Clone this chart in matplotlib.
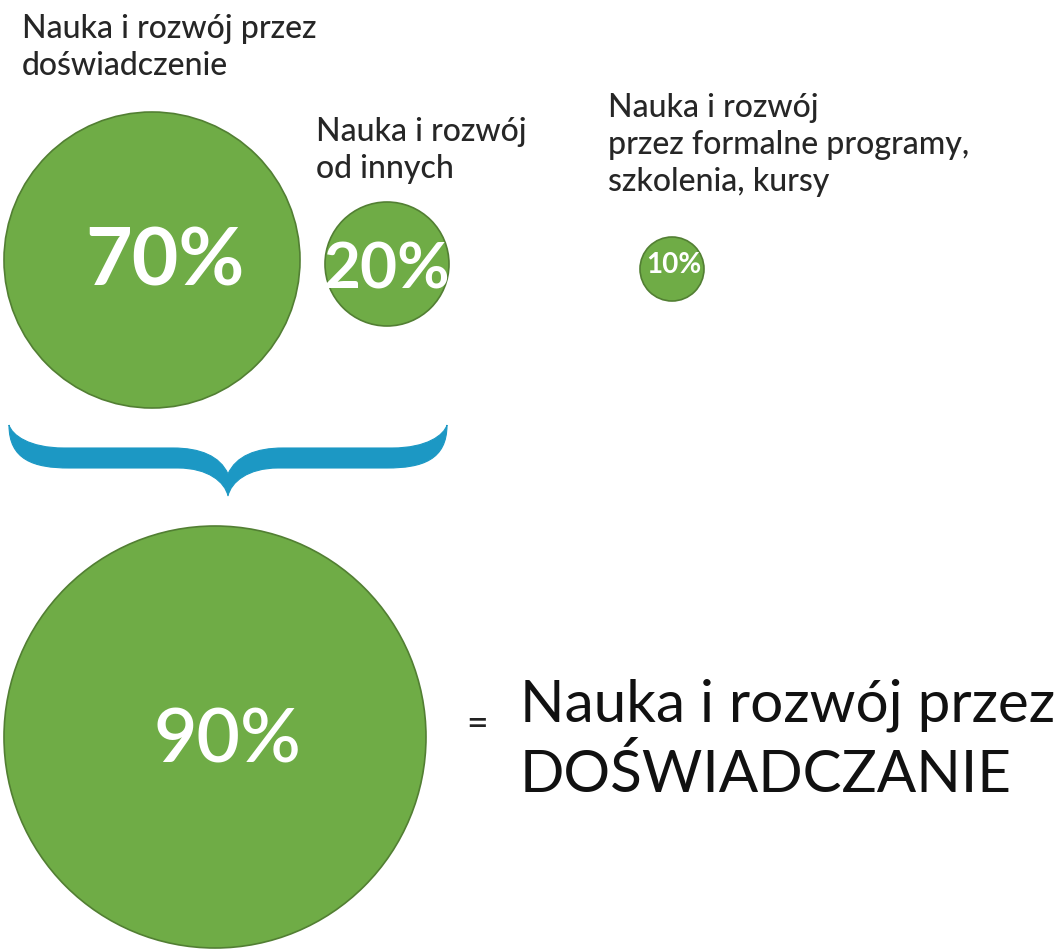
import matplotlib
matplotlib.use("Agg")
import matplotlib.pyplot as plt
from matplotlib.patches import Circle, PathPatch
from matplotlib.path import Path

plt.rcParams['font.family'] = ['Lato', 'DejaVu Sans']

# ---- data ----
shares = [70, 20, 10]
share_labels = ["70%", "20%", "10%"]
share_captions = ["Nauka i rozwój przez\ndoświadczenie",
                  "Nauka i rozwój\nod innych",
                  "Nauka i rozwój\nprzez formalne programy,\nszkolenia, kursy"]
total_share = 90
total_label = "90%"
total_caption = "Nauka i rozwój przez\nDOŚWIADCZANIE"

# ---- layout (pixel coordinates, y downwards) ----
W, H = 1061, 950
circle_centers = [(152, 260), (387, 264), (672, 269)]
circle_radii = [148, 62, 32]
label_centers = [(165, 263), (387, 270), (674, 265)]
label_sizes = [58, 46, 20]
caption_pos = [(22, 14), (316, 117), (608, 93)]
total_center = (215, 737)
total_radius = 211

GREEN = "#6FAC46"
EDGE = "#527F33"
BLUE = "#1C98C4"

fig = plt.figure(figsize=(W / 100, H / 100), dpi=100)
ax = fig.add_axes([0, 0, 1, 1])
ax.set_xlim(0, W)
ax.set_ylim(H, 0)
ax.set_aspect('equal')
ax.axis('off')

for (cx, cy), r, lab, (lx, ly), fs, cap, (tx, ty) in zip(
        circle_centers, circle_radii, share_labels, label_centers,
        label_sizes, share_captions, caption_pos):
    ax.add_patch(Circle((cx, cy), r, facecolor=GREEN, edgecolor=EDGE, lw=1.2))
    ax.text(lx, ly, lab, color="white", fontsize=fs, fontweight="bold",
            ha="center", va="center")
    ax.text(tx, ty, cap, color="#262626", fontsize=23, ha="left", va="top",
            linespacing=1.3, fontweight="medium")

# total circle
ax.add_patch(Circle(total_center, total_radius, facecolor=GREEN,
                    edgecolor=EDGE, lw=1.2))
ax.text(227, 741, total_label, color="white", fontsize=54,
        fontweight="semibold", ha="center", va="center")

ax.text(477, 725, "=", color="#222222", fontsize=27, ha="center", va="center")
ax.text(520, 679, total_caption, color="#111111", fontsize=42, ha="left",
        va="top", linespacing=1.33)


# curly brace (decoration)
def brace(x0, x1, ytop, ybar, thick, ytip, ynotch):
    cx = (x0 + x1) / 2.0

    def half(sign):
        ex = x0 if sign < 0 else x1
        d = lambda v: cx + sign * v
        span = abs(cx - ex)
        lower = [(ex, ytop),
                 (ex, ybar + thick - 8), (d(span - 25), ybar + thick),
                 (d(span - 60), ybar + thick),
                 (d(50), ybar + thick),
                 (d(20), ybar + thick), (d(3), ytip - 14), (cx, ytip)]
        upper = [(cx, ynotch),
                 (d(8), ybar + 8), (d(28), ybar), (d(55), ybar),
                 (d(span - 55), ybar),
                 (d(span - 20), ybar), (ex - sign * 3, ytop + 10), (ex, ytop)]
        return lower, upper

    lowL, upL = half(-1)
    lowR, upR = half(1)
    seg = [Path.CURVE4, Path.CURVE4, Path.CURVE4, Path.LINETO,
           Path.CURVE4, Path.CURVE4, Path.CURVE4]
    verts = list(lowL)
    codes = [Path.MOVETO] + seg
    verts += lowR[::-1][1:]
    codes += seg
    verts += upR[::-1][1:]
    codes += seg
    verts += upL[1:]
    codes += seg
    verts.append(lowL[0])
    codes.append(Path.CLOSEPOLY)
    return Path(verts, codes)


ax.add_patch(PathPatch(brace(9, 447, 425, 448, 20, 496, 474),
                       facecolor=BLUE, edgecolor=BLUE, lw=0.8))

fig.savefig("out.png", dpi=100)
